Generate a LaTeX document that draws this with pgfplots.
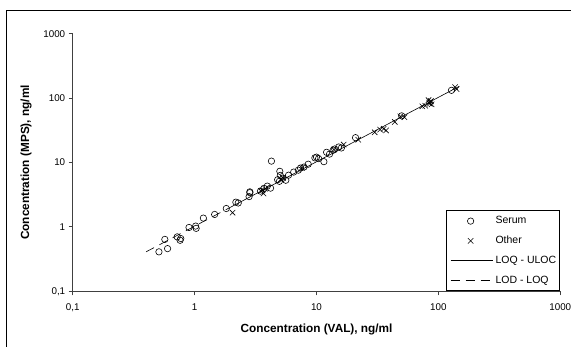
\documentclass[border=0pt]{standalone}
\usepackage{fontspec}
\setmainfont{Liberation Sans}
\usepackage{pgfplots}
\pgfplotsset{compat=1.18}
\pgfplotsset{
  markleg/.style={legend image code/.code={\path[draw=none] (0pt,0pt) -- (42.7pt,0pt); \draw[##1] plot[only marks] coordinates {(20.1pt,0pt)};}},
  lineleg/.style={legend image code/.code={\draw[##1] (0pt,0pt) -- (42.7pt,0pt);}},
}
\begin{document}
\begin{tikzpicture}[x=1pt,y=1pt]
\useasboundingbox (0,0) rectangle (571,347);
\draw[line width=1.2pt] (6.7,-5) -- (6.7,336.3) -- (580,336.3);
\begin{axis}[
  at={(72.7pt,55.7pt)}, anchor=south west, scale only axis,
  width=487.6pt, height=257.6pt,
  xmode=log, ymode=log, xmin=0.1, xmax=1000, ymin=0.1, ymax=1000,
  axis x line*=bottom, axis y line*=left,
  axis line style={black!75, line width=0.8pt},
  tick style={black!75, line width=0.8pt},
  major tick length=4pt, tick align=outside,
  xminorticks=false, yminorticks=false,
  xtick={0.1,1,10,100,1000}, ytick={0.1,1,10,100,1000},
  xticklabels={{0,1},1,10,100,1000},
  yticklabels={{0,1},1,10,100,1000},
  ticklabel style={font=\fontsize{9.8}{11}\selectfont},
  xticklabel style={yshift=-5pt},
  xlabel={Concentration (VAL), ng/ml},
  ylabel={Concentration (MPS), ng/ml},
  label style={font=\fontsize{11.8}{14}\selectfont\bfseries},
  xlabel style={at={(axis description cs:0.5,0)}, anchor=center, yshift=-37.7pt},
  ylabel style={at={(axis description cs:-0.0958,0.5)}, anchor=center},
  legend cell align=left,
  legend style={at={(rel axis cs:1,0)}, anchor=south east, draw=black, line width=0.8pt,
    font=\fontsize{10.5}{12}\selectfont, inner xsep=3.7pt, inner ysep=5.5pt,
    row sep=10pt, column sep=2pt,
    nodes={inner sep=0pt, text height=7.6pt, text depth=2.2pt}},
]
\addplot[only marks, mark=o, mark size=3.2pt, line width=0.6pt, black, markleg]
coordinates {
(0.51,0.41) (0.57,0.64) (0.60,0.46) (0.72,0.70) (0.76,0.62) (0.77,0.66)
(0.90,0.98) (1.02,1.03) (1.03,0.95) (1.18,1.37) (1.46,1.56) (1.82,1.93)
(2.18,2.42) (2.28,2.35) (2.84,3.5) (2.84,3.4) (2.80,2.95) (3.47,3.59)
(3.71,3.97) (3.95,4.3) (4.2,4.0) (4.27,10.5) (4.96,5.1) (5.0,7.3)
(5.05,6.3) (5.3,5.7) (5.6,5.3) (4.8,5.4) (5.9,6.35) (6.5,7.1) (7.1,7.6)
(7.4,8.2) (7.9,8.5) (8.55,9.4) (9.7,11.8) (10.0,12.1) (10.4,11.5)
(11.5,10.3) (12.1,14.4) (12.8,13.5) (13.7,15.5) (14.1,16.2) (15.2,17.4)
(16.0,16.8) (20.9,24.3) (50,53) (128,132)
};
\addlegendentry{Serum}
\addplot[only marks, mark=x, mark size=3.8pt, line width=0.6pt, black, markleg]
coordinates {
(2.05,1.66) (3.68,3.3) (3.5,3.6) (3.6,3.7) (3.8,3.9) (5.3,5.8) (5.1,5.5)
(7.6,8.3) (13.9,15.9) (16.7,19.0) (22.0,22.6) (30.0,29.4) (33.3,32.4)
(35.6,33.3) (37.2,31.5) (43.9,42.6) (48.7,52) (52.6,50.5) (73.8,74.5)
(78,76) (83,93) (85,82) (86,88) (88,80) (84,85) (87,90) (137,148) (141,138)
};
\addlegendentry{Other}
\addplot[black, line width=0.6pt, no marks, lineleg]
coordinates {(2.0,2.05) (148,152)};
\addlegendentry{LOQ - ULOC}
\addplot[black, line width=0.6pt, no marks, dash pattern=on 9pt off 6pt, lineleg]
coordinates {(0.4,0.41) (2.0,2.05)};
\addlegendentry{LOD - LOQ}
\end{axis}
\end{tikzpicture}
\end{document}
